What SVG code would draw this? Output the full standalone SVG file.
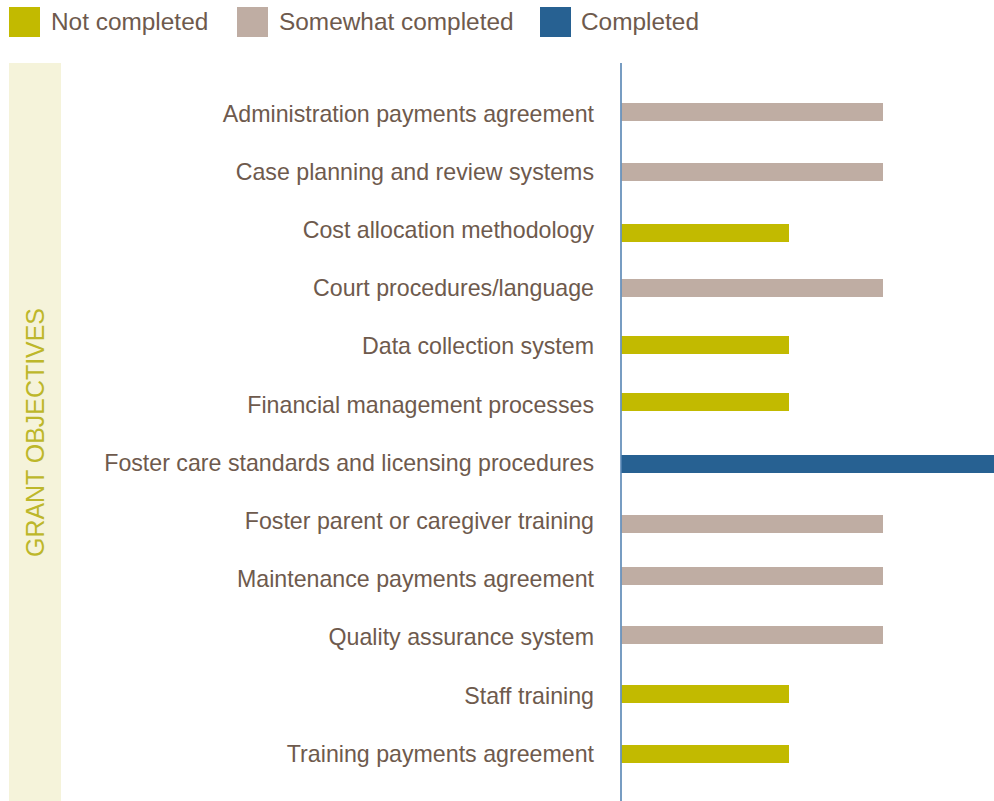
<svg xmlns="http://www.w3.org/2000/svg" width="994" height="801" viewBox="0 0 994 801">
<style>
.lbl{font-family:"Liberation Sans",Arial,sans-serif;font-size:23.2px;fill:#6e5a4d;text-anchor:end}
.leg{font-family:"Liberation Sans",Arial,sans-serif;font-size:24.4px;fill:#6e5a4d}
.nc{fill:#c2ba00}
.sc{fill:#bfada3}
.c{fill:#276192}
</style>
<rect width="994" height="801" fill="#ffffff"/>
<g id="legend">
<rect class="nc" x="9" y="7" width="31" height="30"/>
<text class="leg" x="51" y="30">Not completed</text>
<rect class="sc" x="237" y="7" width="31" height="30"/>
<text class="leg" x="279" y="30">Somewhat completed</text>
<rect class="c" x="540" y="7" width="31" height="30"/>
<text class="leg" x="581" y="30">Completed</text>
</g>
<g id="category-band">
<rect x="9" y="63" width="52" height="738" fill="#f5f3da"/>
<text transform="translate(44,432.5) rotate(-90)" text-anchor="middle" font-family="Liberation Sans,Arial,sans-serif" font-size="25" fill="#bdb72a" textLength="249" lengthAdjust="spacingAndGlyphs">GRANT OBJECTIVES</text>
</g>
<g id="labels">
<text class="lbl" x="594" y="121.5">Administration payments agreement</text>
<text class="lbl" x="594" y="179.7">Case planning and review systems</text>
<text class="lbl" x="594" y="237.9">Cost allocation methodology</text>
<text class="lbl" x="594" y="296.1">Court procedures/language</text>
<text class="lbl" x="594" y="354.3">Data collection system</text>
<text class="lbl" x="594" y="412.5">Financial management processes</text>
<text class="lbl" x="594" y="470.7">Foster care standards and licensing procedures</text>
<text class="lbl" x="594" y="528.9">Foster parent or caregiver training</text>
<text class="lbl" x="594" y="587.1">Maintenance payments agreement</text>
<text class="lbl" x="594" y="645.3">Quality assurance system</text>
<text class="lbl" x="594" y="703.5">Staff training</text>
<text class="lbl" x="594" y="761.7">Training payments agreement</text>
</g>
<g id="bars">
<rect class="sc" x="621.5" y="103" width="261.5" height="18"/>
<rect class="sc" x="621.5" y="163" width="261.5" height="18"/>
<rect class="nc" x="621.5" y="224" width="167.5" height="18"/>
<rect class="sc" x="621.5" y="279" width="261.5" height="18"/>
<rect class="nc" x="621.5" y="336" width="167.5" height="18"/>
<rect class="nc" x="621.5" y="393" width="167.5" height="18"/>
<rect class="c" x="621" y="455" width="373" height="18"/>
<rect class="sc" x="621.5" y="515" width="261.5" height="18"/>
<rect class="sc" x="621.5" y="567" width="261.5" height="18"/>
<rect class="sc" x="621.5" y="626" width="261.5" height="18"/>
<rect class="nc" x="621.5" y="685" width="167.5" height="18"/>
<rect class="nc" x="621.5" y="745" width="167.5" height="18"/>
</g>
<g id="axis">
<line x1="621" y1="63" x2="621" y2="801" stroke="#5584b3" stroke-width="1.6"/>
</g>
</svg>
